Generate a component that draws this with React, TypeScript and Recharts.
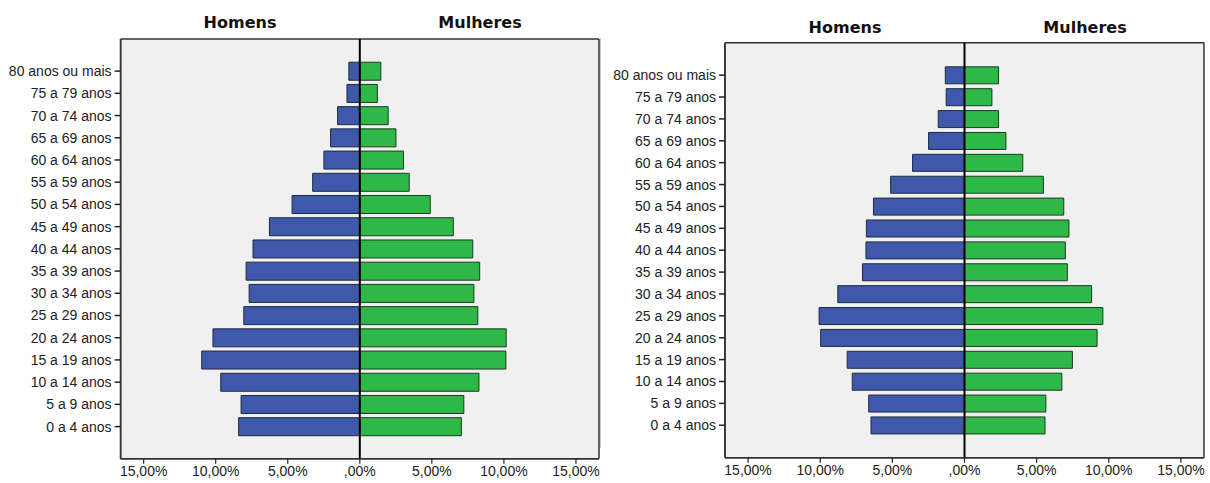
import React from 'react';
import { BarChart, Bar, XAxis, YAxis, CartesianGrid, ReferenceLine } from 'recharts';

const categories = [
  '80 anos ou mais', '75 a 79 anos', '70 a 74 anos', '65 a 69 anos', '60 a 64 anos',
  '55 a 59 anos', '50 a 54 anos', '45 a 49 anos', '40 a 44 anos', '35 a 39 anos',
  '30 a 34 anos', '25 a 29 anos', '20 a 24 anos', '15 a 19 anos', '10 a 14 anos',
  '5 a 9 anos', '0 a 4 anos',
];

const homensA = [0.76, 0.89, 1.54, 2.03, 2.49, 3.27, 4.70, 6.27, 7.41, 7.89, 7.68, 8.05, 10.19, 10.97, 9.65, 8.24, 8.41];
const mulheresA = [1.46, 1.22, 1.97, 2.51, 3.03, 3.43, 4.89, 6.49, 7.84, 8.32, 7.92, 8.19, 10.16, 10.14, 8.27, 7.22, 7.05];

const homensB = [1.33, 1.27, 1.82, 2.49, 3.60, 5.12, 6.31, 6.80, 6.83, 7.07, 8.78, 10.08, 9.97, 8.13, 7.78, 6.64, 6.48];
const mulheresB = [2.36, 1.90, 2.36, 2.87, 4.04, 5.47, 6.88, 7.24, 6.99, 7.13, 8.81, 9.59, 9.19, 7.48, 6.75, 5.64, 5.58];

const xTicks = [-15, -10, -5, 0, 5, 10, 15];
const xDomain = [-16.6, 16.6];
const titles = ['Homens', 'Mulheres'];

const BLUE = '#3E58AC';
const GREEN = '#2EB848';
const BG = '#F0F0F0';
const BORDER = '#333';
const TICK_FONT = '"Liberation Sans", Arial, sans-serif';

const fmt = (v: number) => {
  if (v === 0) return ',00%';
  return Math.abs(v).toFixed(2).replace('.', ',') + '%';
};

const build = (h: number[], m: number[]) =>
  categories.map((cat, i) => ({ cat, homens: -h[i], mulheres: m[i] }));

type PyrProps = {
  data: { cat: string; homens: number; mulheres: number }[];
  margin: { top: number; right: number; bottom: number; left: number };
  pad: { top: number; bottom: number };
  gap: string;
};

const Pyramid = ({ data, margin, pad, gap }: PyrProps) => (
  <BarChart
    width={610}
    height={483}
    data={data}
    layout="vertical"
    stackOffset="sign"
    margin={margin}
    barCategoryGap={gap}
  >
    <CartesianGrid
      fill={BG}
      stroke={BORDER}
      strokeWidth={1.5}
      horizontalCoordinatesGenerator={({ offset }: any) => [offset.top, offset.top + offset.height]}
      verticalCoordinatesGenerator={({ offset }: any) => [offset.left, offset.left + offset.width]}
    />
    <XAxis
      type="number"
      domain={xDomain}
      ticks={xTicks}
      allowDataOverflow
      tickFormatter={fmt}
      height={22}
      tickSize={5}
      tickMargin={2}
      axisLine={{ stroke: BORDER, strokeWidth: 1.5 }}
      tickLine={{ stroke: '#222', strokeWidth: 1.2 }}
      tick={{ fontSize: 14, fill: '#222', fontFamily: TICK_FONT }}
    />
    <YAxis
      type="category"
      dataKey="cat"
      width={110}
      padding={pad}
      tickSize={6}
      tickMargin={3}
      interval={0}
      axisLine={{ stroke: BORDER, strokeWidth: 1.5 }}
      tickLine={{ stroke: '#222', strokeWidth: 1.5 }}
      tick={{ fontSize: 14, fill: '#222', fontFamily: TICK_FONT }}
    />
    <Bar dataKey="homens" stackId="p" fill={BLUE} stroke="#1e2a40" strokeWidth={1} isAnimationActive={false} />
    <Bar dataKey="mulheres" stackId="p" fill={GREEN} stroke="#1e3a22" strokeWidth={1} isAnimationActive={false} />
    <ReferenceLine x={0} stroke="#000" strokeWidth={2} />
  </BarChart>
);

const titleStyle = (left: number, top: number): React.CSSProperties => ({
  position: 'absolute',
  left,
  top,
  width: 160,
  marginLeft: -80,
  textAlign: 'center',
  fontFamily: '"DejaVu Sans", sans-serif',
  fontWeight: 'bold',
  fontSize: 16,
  color: '#111',
  lineHeight: '20px',
});

export default function App() {
  const dataA = build(homensA, mulheresA);
  const dataB = build(homensB, mulheresB);
  return (
    <div style={{ position: 'absolute', left: 0, top: 0, width: 1210, height: 483, background: '#fff' }}>
      <div style={{ position: 'absolute', left: 0, top: 0 }}>
        <Pyramid
          data={dataA}
          margin={{ top: 39, right: 11, bottom: 2.3, left: 10.6 }}
          pad={{ top: 21, bottom: 21 }}
          gap="10%"
        />
      </div>
      <div style={{ position: 'absolute', left: 600, top: 0 }}>
        <Pyramid
          data={dataB}
          margin={{ top: 42.7, right: 6, bottom: 3.3, left: 15 }}
          pad={{ top: 21.5, bottom: 21.5 }}
          gap="12%"
        />
      </div>
      <div style={{ position: 'absolute', left: 600, top: 38, width: 1, height: 410, background: '#c8c8c8' }} />
      <div style={titleStyle(240, 13)}>{titles[0]}</div>
      <div style={titleStyle(480, 13)}>{titles[1]}</div>
      <div style={titleStyle(845, 18)}>{titles[0]}</div>
      <div style={titleStyle(1085, 18)}>{titles[1]}</div>
    </div>
  );
}
